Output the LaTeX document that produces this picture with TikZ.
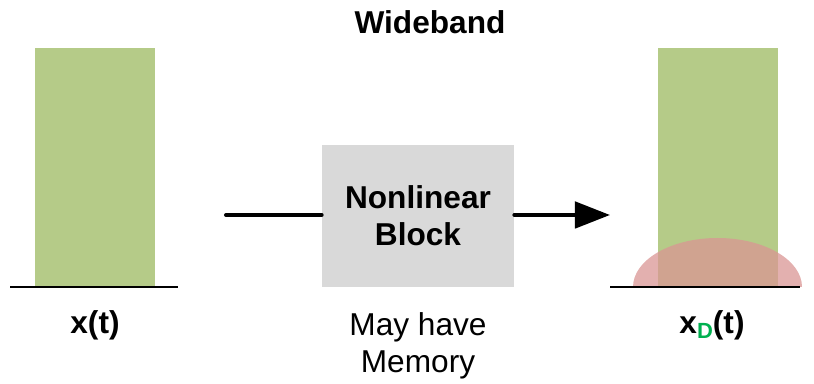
\documentclass[tikz,border=0pt]{standalone}
\usepackage{fontspec}
\setmainfont{Liberation Sans}
\usetikzlibrary{arrows.meta,positioning}
\definecolor{bandgreen}{HTML}{B5CB88}
\definecolor{distpink}{HTML}{DA9694}
\definecolor{blockgray}{HTML}{D9D9D9}
\definecolor{subgreen}{HTML}{00B050}
\tikzset{
  lbl/.style={font=\fontsize{18}{21}\selectfont\bfseries},
  note/.style={font=\fontsize{18}{21}\selectfont, align=center},
  nlblock/.style={fill=blockgray, minimum width=192*0.02cm, minimum height=142*0.02cm,
    align=center, font=\fontsize{18}{21}\selectfont\bfseries},
  sigline/.style={line width=2.3pt, line cap=round},
  axis/.style={line width=1.1pt}
}

\begin{document}
\begin{tikzpicture}[x=0.02cm, y=-0.02cm]
        \useasboundingbox (0,0) rectangle (814,384);
        \node[lbl] (title) at (430,22) {Wideband};

        % input spectrum
        \fill[bandgreen] (35,48) rectangle (155,287);
        \draw[axis] (10,287) -- (178,287);
        \node[lbl] (xin) at (95,325) {x(t)};

        % nonlinear block
        \node[nlblock] (block) at (418,216) {Nonlinear\\Block};
        \node[note] (mem) at (418,346) {May have\\Memory};
        \coordinate (in) at (226,215);
        \coordinate (out) at (610,215);
        \draw[sigline] (in) -- (block.west |- in);
        \draw[sigline, -{Triangle[length=20pt, width=15pt]}] (block.east |- out) -- (out);

        % output spectrum
        \fill[bandgreen] (658,48) rectangle (778,287);
        \fill[distpink, opacity=0.75] (633,287) arc[start angle=180, end angle=360, x radius=84.5, y radius=49] -- cycle;
        \draw[axis] (610,287) -- (800,287);
        \node[lbl] (xout) at (712,325) {x\textcolor{subgreen}{\fontsize{12.5}{13}\selectfont\raisebox{-0.25em}{D}}(t)};
      \end{tikzpicture}
\end{document}
